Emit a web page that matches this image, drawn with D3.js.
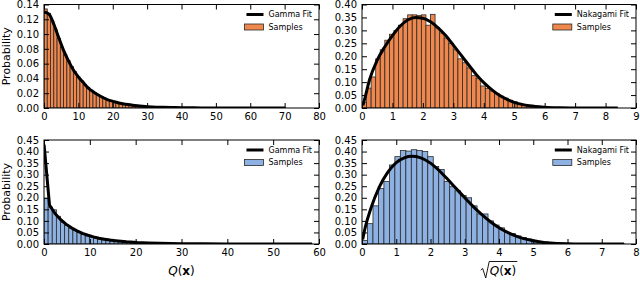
<!DOCTYPE html>
<html><head><meta charset="utf-8">
<script src="https://cdn.jsdelivr.net/npm/d3@7"></script>
<style>
html,body{margin:0;padding:0;background:#fff;}
svg{display:block;}
text{font-family:"DejaVu Sans",sans-serif;}
</style></head><body>
<svg id="chart" width="640" height="283"></svg>
<script>
// ---------- DATA ----------
// Top-left: Gamma fit of Q(x), orange samples
const gammaOrangeBinWidth = 0.95;
const gammaOrangeBars = [
 0.134, 0.128, 0.118, 0.106, 0.094, 0.082, 0.072, 0.064, 0.056, 0.049,
 0.042, 0.037, 0.032, 0.028, 0.024, 0.021, 0.018, 0.0155, 0.0135, 0.0115,
 0.0098, 0.0084, 0.0072, 0.0061, 0.0052, 0.0044, 0.0038, 0.0032, 0.0027, 0.0023,
 0.0019, 0.0016, 0.0014, 0.0012, 0.001, 0.00085, 0.0007, 0.0006, 0.0005, 0.00042,
 0.00035, 0.0003, 0.00025, 0.0002, 0.00017, 0.00014, 0.00012, 0.0001, 0.00008, 0.00007,
 0.00006, 0.00005, 0.00004, 0.00003, 0.00003, 0.00002, 0.00002, 0.00002, 0.00001, 0.00001,
 0, 0.00001, 0, 0, 0.00001, 0, 0, 0, 0, 0,
 0.00001, 0, 0, 0.00001];
const gammaOrangeFitX = [0.02, 1.45, 2.9, 4.3, 5.7, 7.2, 8.6, 10.0, 11.5, 12.9, 14.3, 15.8, 17.2, 18.6, 20.1, 21.5, 22.9, 24.4, 25.8, 27.2, 28.7, 31.5, 34.4, 37.3, 40.1, 45.9, 51.6, 57.3, 63.1, 70.2];
const gammaOrangeFitY = [0.13, 0.127, 0.113, 0.095, 0.078, 0.063, 0.051, 0.042, 0.034, 0.027, 0.022, 0.0175, 0.014, 0.011, 0.009, 0.0072, 0.0058, 0.0046, 0.0037, 0.003, 0.0024, 0.0015, 0.00095, 0.0006, 0.00038, 0.00015, 0.00006, 0.00002, 0.00001, 0];

// Top-right: Nakagami fit of sqrt(Q(x)), orange samples
const nakaOrangeBinWidth = 0.15;
const nakaOrangeBars = [
 0.022, 0.077, 0.12, 0.19, 0.225, 0.262, 0.285, 0.30, 0.32, 0.345,
 0.36, 0.36, 0.358, 0.36, 0.32, 0.362, 0.31, 0.29, 0.27, 0.25,
 0.225, 0.19, 0.175, 0.155, 0.125, 0.115, 0.085, 0.075, 0.066, 0.056,
 0.046, 0.038, 0.03, 0.024, 0.018, 0.014, 0.01, 0.008, 0.006, 0.0045,
 0.003, 0.0022, 0.0015, 0.001, 0.0008, 0.0005, 0.0004, 0.0003, 0.0002, 0.00015,
 0.0001, 0.0001, 0.00005, 0, 0, 0.00005];
const nakaOrangeFitX = [0.03, 0.1, 0.25, 0.5, 0.75, 1, 1.25, 1.5, 1.75, 2, 2.25, 2.5, 2.75, 3, 3.25, 3.5, 3.75, 4, 4.25, 4.5, 4.75, 5, 5.25, 5.5, 6, 6.5, 7, 7.5, 8, 8.4];
const nakaOrangeFitY = [0.01, 0.04, 0.11, 0.185, 0.237, 0.28, 0.316, 0.34, 0.35, 0.347, 0.333, 0.31, 0.28, 0.243, 0.205, 0.167, 0.13, 0.098, 0.072, 0.05, 0.034, 0.022, 0.014, 0.0085, 0.003, 0.0009, 0.0002, 0.00005, 0.00001, 0];

// Bottom-left: Gamma fit of Q(x), blue samples
const gammaBlueBinWidth = 0.9;
const gammaBlueBars = [
 0.198, 0.16, 0.148, 0.12, 0.095, 0.08, 0.068, 0.058, 0.05, 0.042,
 0.035, 0.03, 0.025, 0.021, 0.018, 0.015, 0.013, 0.011, 0.0095, 0.008,
 0.0068, 0.0058, 0.005, 0.0042, 0.0036, 0.003, 0.0026, 0.0022, 0.0019, 0.0016,
 0.0013, 0.0011, 0.0009, 0.0008, 0.0007, 0.0006, 0.0005, 0.0004, 0.0004, 0.0003,
 0.0003, 0.0002, 0.0002, 0.00015, 0.00012, 0.0001, 0.0001, 0.00008, 0.00006, 0.00005,
 0.00004, 0.00003, 0.00003, 0.00002, 0.00002, 0.00001, 0.00001, 0, 0.00001, 0,
 0, 0, 0.00001, 0, 0.00001];
const gammaBlueFitX = [0.02, 1.2, 2.4, 3.6, 4.8, 6.0, 7.2, 8.4, 9.6, 10.8, 12.0, 13.2, 14.4, 15.6, 16.8, 18.0, 20.4, 22.8, 25.2, 27.6, 30.0, 34.8, 39.6, 44.4, 49.2, 54.0, 58.5];
const gammaBlueFitY = [0.43, 0.168, 0.132, 0.106, 0.086, 0.070, 0.057, 0.046, 0.038, 0.031, 0.025, 0.021, 0.017, 0.014, 0.0115, 0.0094, 0.0063, 0.0043, 0.0029, 0.002, 0.0013, 0.0006, 0.00028, 0.00013, 0.00006, 0.00003, 0.00001];

// Bottom-right: Nakagami fit of sqrt(Q(x)), blue samples
const nakaBlueBinWidth = 0.16;
const nakaBlueBars = [
 0.015, 0.088, 0.165, 0.24, 0.27, 0.342, 0.378, 0.405, 0.402, 0.408,
 0.405, 0.40, 0.378, 0.335, 0.322, 0.27, 0.248, 0.23, 0.21, 0.2,
 0.165, 0.13, 0.13, 0.1, 0.082, 0.07, 0.05, 0.045, 0.035, 0.028,
 0.022, 0.016, 0.012, 0.009, 0.006, 0.005, 0.003, 0.0025, 0.0015, 0.001,
 0.0008, 0.0005, 0.0003, 0.0002, 0.0001, 0.0001, 0, 0.0001];
const nakaBlueFitX = [0.02, 0.1, 0.25, 0.5, 0.75, 1, 1.25, 1.45, 1.7, 2, 2.25, 2.5, 2.75, 3, 3.25, 3.5, 3.75, 4, 4.25, 4.5, 4.75, 5, 5.25, 5.5, 6, 6.5, 7, 7.65];
const nakaBlueFitY = [0.02, 0.075, 0.15, 0.245, 0.31, 0.352, 0.374, 0.38, 0.374, 0.35, 0.318, 0.28, 0.24, 0.2, 0.162, 0.127, 0.096, 0.07, 0.05, 0.034, 0.022, 0.014, 0.008, 0.0045, 0.0013, 0.0003, 0.00007, 0];

// Axis ticks
const xTicksGammaTop = [0, 10, 20, 30, 40, 50, 60, 70, 80];
const xTicksNakaTop = [0, 1, 2, 3, 4, 5, 6, 7, 8, 9];
const xTicksGammaBottom = [0, 10, 20, 30, 40, 50, 60];
const xTicksNakaBottom = [0, 1, 2, 3, 4, 5, 6, 7, 8];
const yTicksGammaTop = [0, 0.02, 0.04, 0.06, 0.08, 0.10, 0.12, 0.14];
const yTicksNakaTop = [0, 0.05, 0.10, 0.15, 0.20, 0.25, 0.30, 0.35, 0.40];
const yTicksBottom = [0, 0.05, 0.10, 0.15, 0.20, 0.25, 0.30, 0.35, 0.40, 0.45];

const gammaLabel = "Gamma Fit";
const nakaLabel = "Nakagami Fit";
const samplesLabel = "Samples";
const yAxisLabel = "Probability";

// ---------- DRAW ----------
const svg = d3.select("#chart");
const ORANGE = "#f0874c";
const BLUE = "#8db1e2";
const EDGE = "#2a2a2a";

const L = {leftA: 44, rightA: 319, leftB: 362, rightB: 636, topT: 4.5, botT: 108, topB: 140, botB: 244};

const panels = [
 {id: "p1", left: L.leftA, right: L.rightA, top: L.topT, bottom: L.botT, xDomain: [0, 80], yDomain: [0, 0.14],
  xTicks: xTicksGammaTop, yTicks: yTicksGammaTop, bars: gammaOrangeBars, bw: gammaOrangeBinWidth,
  fitX: gammaOrangeFitX, fitY: gammaOrangeFitY, fill: ORANGE, label: gammaLabel, ylabel: true, curve: d3.curveMonotoneX},
 {id: "p2", left: L.leftB, right: L.rightB, top: L.topT, bottom: L.botT, xDomain: [0, 9], yDomain: [0, 0.40],
  xTicks: xTicksNakaTop, yTicks: yTicksNakaTop, bars: nakaOrangeBars, bw: nakaOrangeBinWidth,
  fitX: nakaOrangeFitX, fitY: nakaOrangeFitY, fill: ORANGE, label: nakaLabel, ylabel: false, curve: d3.curveMonotoneX},
 {id: "p3", left: L.leftA, right: L.rightA, top: L.topB, bottom: L.botB, xDomain: [0, 60], yDomain: [0, 0.45],
  xTicks: xTicksGammaBottom, yTicks: yTicksBottom, bars: gammaBlueBars, bw: gammaBlueBinWidth,
  fitX: gammaBlueFitX, fitY: gammaBlueFitY, fill: BLUE, label: gammaLabel, ylabel: true, curve: d3.curveLinear},
 {id: "p4", left: L.leftB, right: L.rightB, top: L.topB, bottom: L.botB, xDomain: [0, 8], yDomain: [0, 0.45],
  xTicks: xTicksNakaBottom, yTicks: yTicksBottom, bars: nakaBlueBars, bw: nakaBlueBinWidth,
  fitX: nakaBlueFitX, fitY: nakaBlueFitY, fill: BLUE, label: nakaLabel, ylabel: false, curve: d3.curveMonotoneX}
];

const defs = svg.append("defs");

panels.forEach(p => {
  const x = d3.scaleLinear().domain(p.xDomain).range([p.left, p.right]);
  const y = d3.scaleLinear().domain(p.yDomain).range([p.bottom, p.top]);
  const g = svg.append("g");

  defs.append("clipPath").attr("id", "clip-" + p.id)
    .append("rect").attr("x", p.left).attr("y", p.top)
    .attr("width", p.right - p.left).attr("height", p.bottom - p.top);

  const plot = g.append("g").attr("clip-path", `url(#clip-${p.id})`);

  plot.selectAll("rect.bar").data(p.bars).join("rect")
    .attr("class", "bar")
    .attr("x", (d, i) => x(i * p.bw))
    .attr("width", x(p.bw) - x(0))
    .attr("y", d => y(d))
    .attr("height", d => y(0) - y(d))
    .attr("fill", p.fill)
    .attr("stroke", EDGE)
    .attr("stroke-width", 0.8);

  const pts = d3.zip(p.fitX, p.fitY);
  plot.append("path").datum(pts)
    .attr("d", d3.line().x(d => x(d[0])).y(d => y(d[1])).curve(p.curve))
    .attr("fill", "none").attr("stroke", "#000").attr("stroke-width", 3)
    .attr("stroke-linejoin", "round");

  // axes (ticks inward, all four sides)
  const fmtY = d3.format(".2f");
  const axB = g.append("g").attr("transform", `translate(0,${p.bottom})`)
    .call(d3.axisBottom(x).tickValues(p.xTicks).tickSize(-5).tickPadding(5).tickFormat(d3.format("d")));
  const axT = g.append("g").attr("transform", `translate(0,${p.top})`)
    .call(d3.axisTop(x).tickValues(p.xTicks).tickSize(-5).tickFormat(""));
  const axL = g.append("g").attr("transform", `translate(${p.left},0)`)
    .call(d3.axisLeft(y).tickValues(p.yTicks).tickSize(-5).tickPadding(5).tickFormat(fmtY));
  const axR = g.append("g").attr("transform", `translate(${p.right},0)`)
    .call(d3.axisRight(y).tickValues(p.yTicks).tickSize(-5).tickFormat(""));
  [axB, axT, axL, axR].forEach(a => {
    a.select(".domain").remove();
    a.selectAll("line").attr("stroke", "#000").attr("stroke-width", 1);
    a.selectAll("text").attr("font-size", 10).attr("font-family", "DejaVu Sans").attr("fill", "#000");
  });

  g.append("rect").attr("x", p.left).attr("y", p.top)
    .attr("width", p.right - p.left).attr("height", p.bottom - p.top)
    .attr("fill", "none").attr("stroke", "#000").attr("stroke-width", 1);

  // legend
  const lg = g.append("g");
  const tEnd = p.right - 7;
  const t1 = lg.append("text").attr("x", tEnd).attr("y", p.top + 10).attr("dy", "0.35em")
    .attr("text-anchor", "end").attr("font-size", 8).text(p.label);
  const t2 = lg.append("text").attr("y", p.top + 22.5).attr("dy", "0.35em")
    .attr("font-size", 8).text(samplesLabel);
  const w1 = t1.node().getComputedTextLength();
  const tx = tEnd - w1;
  t2.attr("x", tx);
  lg.append("line").attr("x1", tx - 22).attr("x2", tx - 5)
    .attr("y1", p.top + 10).attr("y2", p.top + 10)
    .attr("stroke", "#000").attr("stroke-width", 3);
  lg.append("rect").attr("x", tx - 24).attr("y", p.top + 19.5).attr("width", 19).attr("height", 6)
    .attr("fill", p.fill).attr("stroke", EDGE).attr("stroke-width", 0.8);

  if (p.ylabel) {
    g.append("text").attr("transform", `translate(10,${(p.top + p.bottom) / 2}) rotate(-90)`)
      .attr("text-anchor", "middle").attr("font-size", 11).text(yAxisLabel);
  }
});

// x-axis labels (math)
const xl1 = svg.append("text").attr("x", (L.leftA + L.rightA) / 2).attr("y", 275)
  .attr("text-anchor", "middle").attr("font-size", 12).attr("font-family", "Liberation Serif");
xl1.append("tspan").attr("font-style", "italic").text("Q");
xl1.append("tspan").text("(");
xl1.append("tspan").attr("font-weight", "bold").text("x");
xl1.append("tspan").text(")");

const cx2 = (L.leftB + L.rightB) / 2;
const xl2 = svg.append("text").attr("x", cx2 + 4).attr("y", 275)
  .attr("text-anchor", "middle").attr("font-size", 12).attr("font-family", "Liberation Serif");
xl2.append("tspan").attr("font-style", "italic").text("Q");
xl2.append("tspan").text("(");
xl2.append("tspan").attr("font-weight", "bold").text("x");
xl2.append("tspan").text(")");
const w2 = xl2.node().getComputedTextLength();
const sx = cx2 + 4 - w2 / 2;
svg.append("path")
  .attr("d", `M${sx - 9},${270} L${sx - 7},${268.5} L${sx - 4},${278} L${sx - 0.5},${261.5} L${sx + w2 + 1},${261.5}`)
  .attr("fill", "none").attr("stroke", "#000").attr("stroke-width", 0.9);
</script>
</body></html>
